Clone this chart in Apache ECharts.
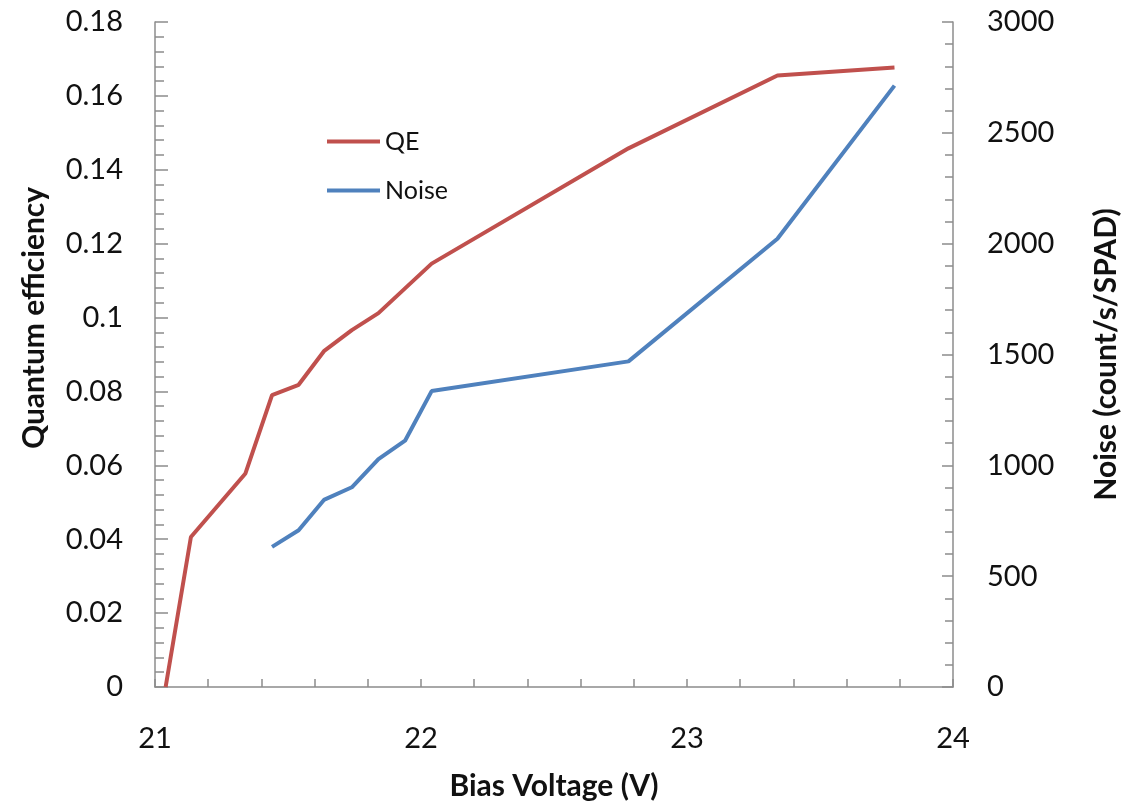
<!DOCTYPE html>
<html>
<head>
<meta charset="utf-8">
<style>
    html, body { margin: 0; padding: 0; background: #fff; }
    #chart { width: 1133px; height: 806px; }
</style>
<script src="https://cdn.jsdelivr.net/npm/echarts@6/dist/echarts.min.js"></script>
</head>
<body>
<div id="chart"></div>
<script>
// bias voltage (V) for each measurement
var qeVoltage = [21.04, 21.135, 21.34, 21.44, 21.54, 21.635, 21.74, 21.84, 21.94, 22.04, 22.78, 23.34, 23.78];
var qeValues = [0, 0.0406, 0.0578, 0.0790, 0.0818, 0.0909, 0.0966, 0.1012, 0.1079, 0.1146, 0.1458, 0.1655, 0.1677];

var noiseVoltage = [21.44, 21.54, 21.635, 21.74, 21.84, 21.94, 22.04, 22.78, 23.34, 23.78];
var noiseValues = [632, 707, 844, 901, 1028, 1111, 1335, 1469, 2022, 2713];

var seriesNames = ['QE', 'Noise'];

function pairs(xs, ys) {
    return xs.map(function (x, i) { return [x, ys[i]]; });
}

var font = 'Lato';
var axisGray = '#8c8c8c';
var textColor = '#111';

var option = {
    animation: false,
    backgroundColor: '#fff',
    textStyle: { fontFamily: font },
    grid: { left: 155, right: 180, top: 22, bottom: 115, containLabel: false },
    legend: {
        orient: 'vertical',
        left: 322,
        top: 124,
        itemWidth: 53,
        itemHeight: 4,
        itemGap: 24,
        data: seriesNames.map(function (n) { return { name: n, icon: 'rect' }; }),
        textStyle: { fontFamily: font, fontSize: 25, color: textColor }
    },
    graphic: [{
        type: 'text',
        x: 34,
        y: 318,
        rotation: Math.PI / 2,
        style: {
            text: 'Quantum efficiency',
            fontFamily: font,
            fontSize: 30,
            fontWeight: 'bold',
            fill: textColor,
            align: 'center',
            verticalAlign: 'middle'
        }
    }],
    xAxis: {
        type: 'value',
        min: 21,
        max: 24,
        interval: 1,
        name: 'Bias Voltage (V)',
        nameLocation: 'middle',
        nameGap: 84,
        nameTextStyle: { fontFamily: font, fontSize: 30, fontWeight: 'bold', color: textColor },
        axisLine: { show: true, lineStyle: { color: axisGray, width: 1.5 } },
        axisTick: { show: true, inside: true, length: 8, lineStyle: { color: axisGray, width: 1.5 } },
        minorTick: { show: true, splitNumber: 5, length: 8, lineStyle: { color: axisGray, width: 1.5 } },
        axisLabel: { fontFamily: font, fontSize: 29, color: textColor, margin: 37 },
        splitLine: { show: false }
    },
    yAxis: [{
        type: 'value',
        position: 'left',
        min: 0,
        max: 0.18,
        interval: 0.02,
        axisLine: { show: true, lineStyle: { color: axisGray, width: 1.5 } },
        axisTick: { show: true, inside: true, length: 13, lineStyle: { color: axisGray, width: 1.5 } },
        minorTick: { show: true, splitNumber: 5, length: 9, lineStyle: { color: axisGray, width: 1.5 } },
        axisLabel: { fontFamily: font, fontSize: 29, color: textColor, margin: 32 },
        splitLine: { show: false }
    }, {
        type: 'value',
        position: 'right',
        min: 0,
        max: 3000,
        interval: 500,
        name: 'Noise (count/s/SPAD)',
        nameLocation: 'middle',
        nameGap: 138,
        nameTextStyle: { fontFamily: font, fontSize: 30, fontWeight: 'bold', color: textColor },
        axisLine: { show: true, lineStyle: { color: axisGray, width: 1.5 } },
        axisTick: { show: true, inside: true, length: 11, lineStyle: { color: axisGray, width: 1.5 } },
        minorTick: { show: true, splitNumber: 5, length: 8, lineStyle: { color: axisGray, width: 1.5 } },
        axisLabel: {
            fontFamily: font, fontSize: 29, color: textColor, margin: 34,
            formatter: function (v) { return String(v); }
        },
        splitLine: { show: false }
    }],
    series: [{
        name: seriesNames[0],
        type: 'line',
        yAxisIndex: 0,
        symbol: 'none',
        lineStyle: { color: '#C0504D', width: 4 },
        itemStyle: { color: '#C0504D' },
        data: pairs(qeVoltage, qeValues)
    }, {
        name: seriesNames[1],
        type: 'line',
        yAxisIndex: 1,
        symbol: 'none',
        lineStyle: { color: '#4F81BD', width: 4 },
        itemStyle: { color: '#4F81BD' },
        data: pairs(noiseVoltage, noiseValues)
    }]
};

var chart = echarts.init(document.getElementById('chart'));
chart.setOption(option);
</script>
</body>
</html>
